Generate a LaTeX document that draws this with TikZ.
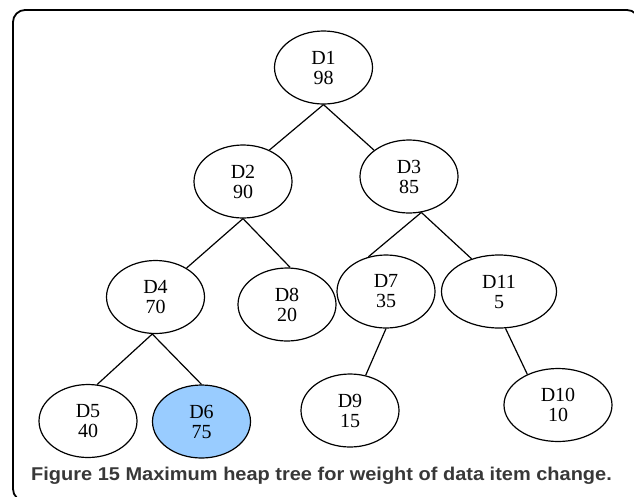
\documentclass[tikz,border=0pt]{standalone}
\usepackage{fontspec}
\setmainfont{Liberation Serif}
\newfontfamily\capfont[FakeStretch=1.08]{Liberation Sans}
\usetikzlibrary{shapes.geometric}
\definecolor{hilite}{HTML}{99CCFF}
\definecolor{capgray}{HTML}{383838}
\begin{document}
\begin{tikzpicture}[heapnode/.style={draw,ellipse,line width=1.2pt,minimum width=98pt,minimum height=73pt,inner sep=0pt,align=center,font=\fontsize{20}{20}\selectfont},
  tie/.style={line width=1.2pt}]
\useasboundingbox (0pt,0pt) rectangle (634pt,-496pt);
\clip (0pt,0pt) rectangle (634pt,-496pt);
\draw[line width=1.8pt,rounded corners=12pt] (13pt,-10pt) rectangle (639pt,-501pt);
\node[heapnode] (n_1) at (323.5pt,-67.5pt) {D1\\98};
\node[heapnode] (n_2) at (243pt,-181.5pt) {D2\\90};
\node[heapnode] (n_3) at (409pt,-176.5pt) {D3\\85};
\node[heapnode] (n_4) at (155.5pt,-297pt) {D4\\70};
\node[heapnode] (n_8) at (287pt,-304.5pt) {D8\\20};
\node[heapnode] (n_7) at (386pt,-291.5pt) {D7\\35};
\node[heapnode,minimum width=115pt] (n_11) at (499pt,-291.5pt) {D11\\5};
\node[heapnode] (n_5) at (88pt,-421pt) {D5\\40};
\node[heapnode,fill=hilite] (n_6) at (201.5pt,-421.5pt) {D6\\75};
\node[heapnode] (n_9) at (350pt,-410.5pt) {D9\\15};
\node[heapnode,minimum width=108pt] (n_10) at (558pt,-405pt) {D10\\10};
\draw[tie] (n_1.south) -- (n_2.50);
\draw[tie] (n_1.south) -- (n_3.143);
\draw[tie] (n_2.south) -- (n_4.43);
\draw[tie] (n_2.south) -- (n_8.85);
\draw[tie] (n_3.-71) -- (n_7.117);
\draw[tie] (n_3.-71) -- (n_11.130);
\draw[tie] (n_4.-95) -- (n_5.76);
\draw[tie] (n_4.-95) -- (n_6.north);
\draw[tie] (n_7.south) -- (n_9.66);
\draw[tie] (n_11.-80) -- (n_10.135);
\node[anchor=base west,inner sep=0pt,text=capgray,font=\capfont\bfseries\fontsize{18.5}{20}\selectfont] (cap) at (31pt,-480pt) {Figure 15 Maximum heap tree for weight of data item change.};
\end{tikzpicture}
\end{document}
